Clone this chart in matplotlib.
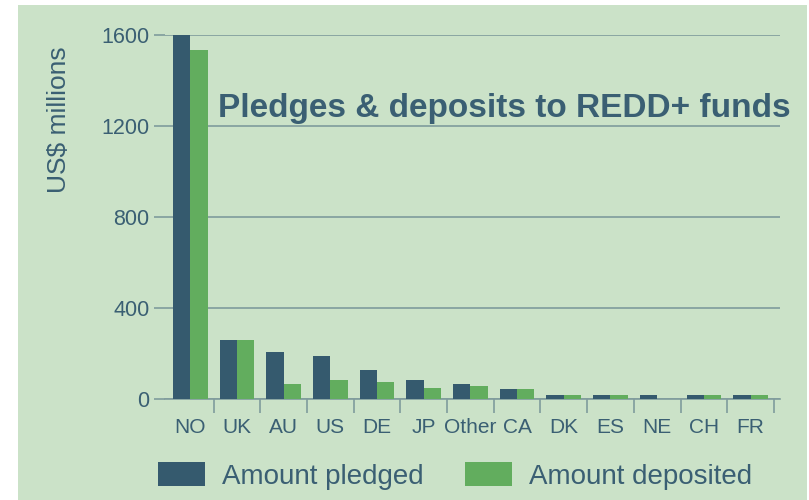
import matplotlib
matplotlib.use("Agg")
import matplotlib.pyplot as plt
from matplotlib.patches import Rectangle, Patch
import numpy as np

countries = ["NO", "UK", "AU", "US", "DE", "JP", "Other", "CA", "DK", "ES", "NE", "CH", "FR"]
pledged = [1600, 260, 205, 188, 129, 82, 66, 45, 18, 18, 18, 18, 18]
deposited = [1535, 260, 66, 82, 75, 47, 56, 45, 18, 18, 0, 18, 18]
y_ticks = [0, 400, 800, 1200, 1600]

BG = "#cbe2c8"
DARK = "#355a6e"
GREEN = "#62ad5e"
TEXT = "#3a5f73"
GRID = "#7f9c9c"

plt.rcParams["font.family"] = ["Liberation Sans", "DejaVu Sans"]

fig = plt.figure(figsize=(8.09, 5.0), dpi=100)
fig.patch.set_facecolor("white")
fig.patches.append(Rectangle((18 / 809, 0), (807 - 18) / 809, 1 - 5 / 500,
                             transform=fig.transFigure, facecolor=BG,
                             edgecolor="none", zorder=-10))

ax = fig.add_axes([165 / 809, 1 - 399 / 500, (780 - 165) / 809, (399 - 35) / 500])
ax.set_facecolor("none")

x = np.arange(len(countries))
w = 0.371
ax.bar(x - w / 2, pledged, width=w, color=DARK, zorder=3, clip_on=False)
ax.bar(x + w / 2, deposited, width=w, color=GREEN, zorder=3, clip_on=False)

ax.set_xlim(-0.54, 12.63)
ax.set_ylim(0, 1600)

for s in ["top", "right", "left"]:
    ax.spines[s].set_visible(False)
ax.spines["bottom"].set_color(GRID)
ax.spines["bottom"].set_linewidth(1.2)

ax.set_yticks(y_ticks)
ax.set_yticklabels([str(v) for v in y_ticks])
ax.yaxis.grid(True, color=GRID, linewidth=1.2, zorder=1)
ax.tick_params(axis="y", length=8, width=1.2, color=GRID, labelsize=15.5,
               labelcolor=TEXT, pad=3)

ax.set_xticks(x + 0.5)
ax.set_xticklabels([])
ax.tick_params(axis="x", which="major", length=10, width=1.2, color=GRID)
ax.set_xticks(x, minor=True)
ax.set_xticklabels(countries, minor=True)
ax.tick_params(axis="x", which="minor", length=0, labelsize=15,
               labelcolor=TEXT, pad=14)

ax.set_ylabel("US$ millions", fontsize=19, color=TEXT)
ax.yaxis.set_label_coords(-0.153, 0.766)

ax.text(0.6, 1238, "Pledges & deposits to REDD+ funds", fontsize=24,
        fontweight="bold", color=TEXT, ha="left", va="baseline", zorder=4)

handles = [Patch(facecolor=DARK, edgecolor="none", label="Amount pledged"),
           Patch(facecolor=GREEN, edgecolor="none", label="Amount deposited")]
leg = fig.legend(handles=handles, loc="center", bbox_to_anchor=(455 / 809, 1 - 476 / 500),
                 ncol=2, frameon=False, fontsize=20, handlelength=1.7,
                 handleheight=0.9, handletextpad=0.6, columnspacing=1.5)
for t in leg.get_texts():
    t.set_color(TEXT)

fig.savefig("out.png", dpi=100, facecolor=fig.get_facecolor())
